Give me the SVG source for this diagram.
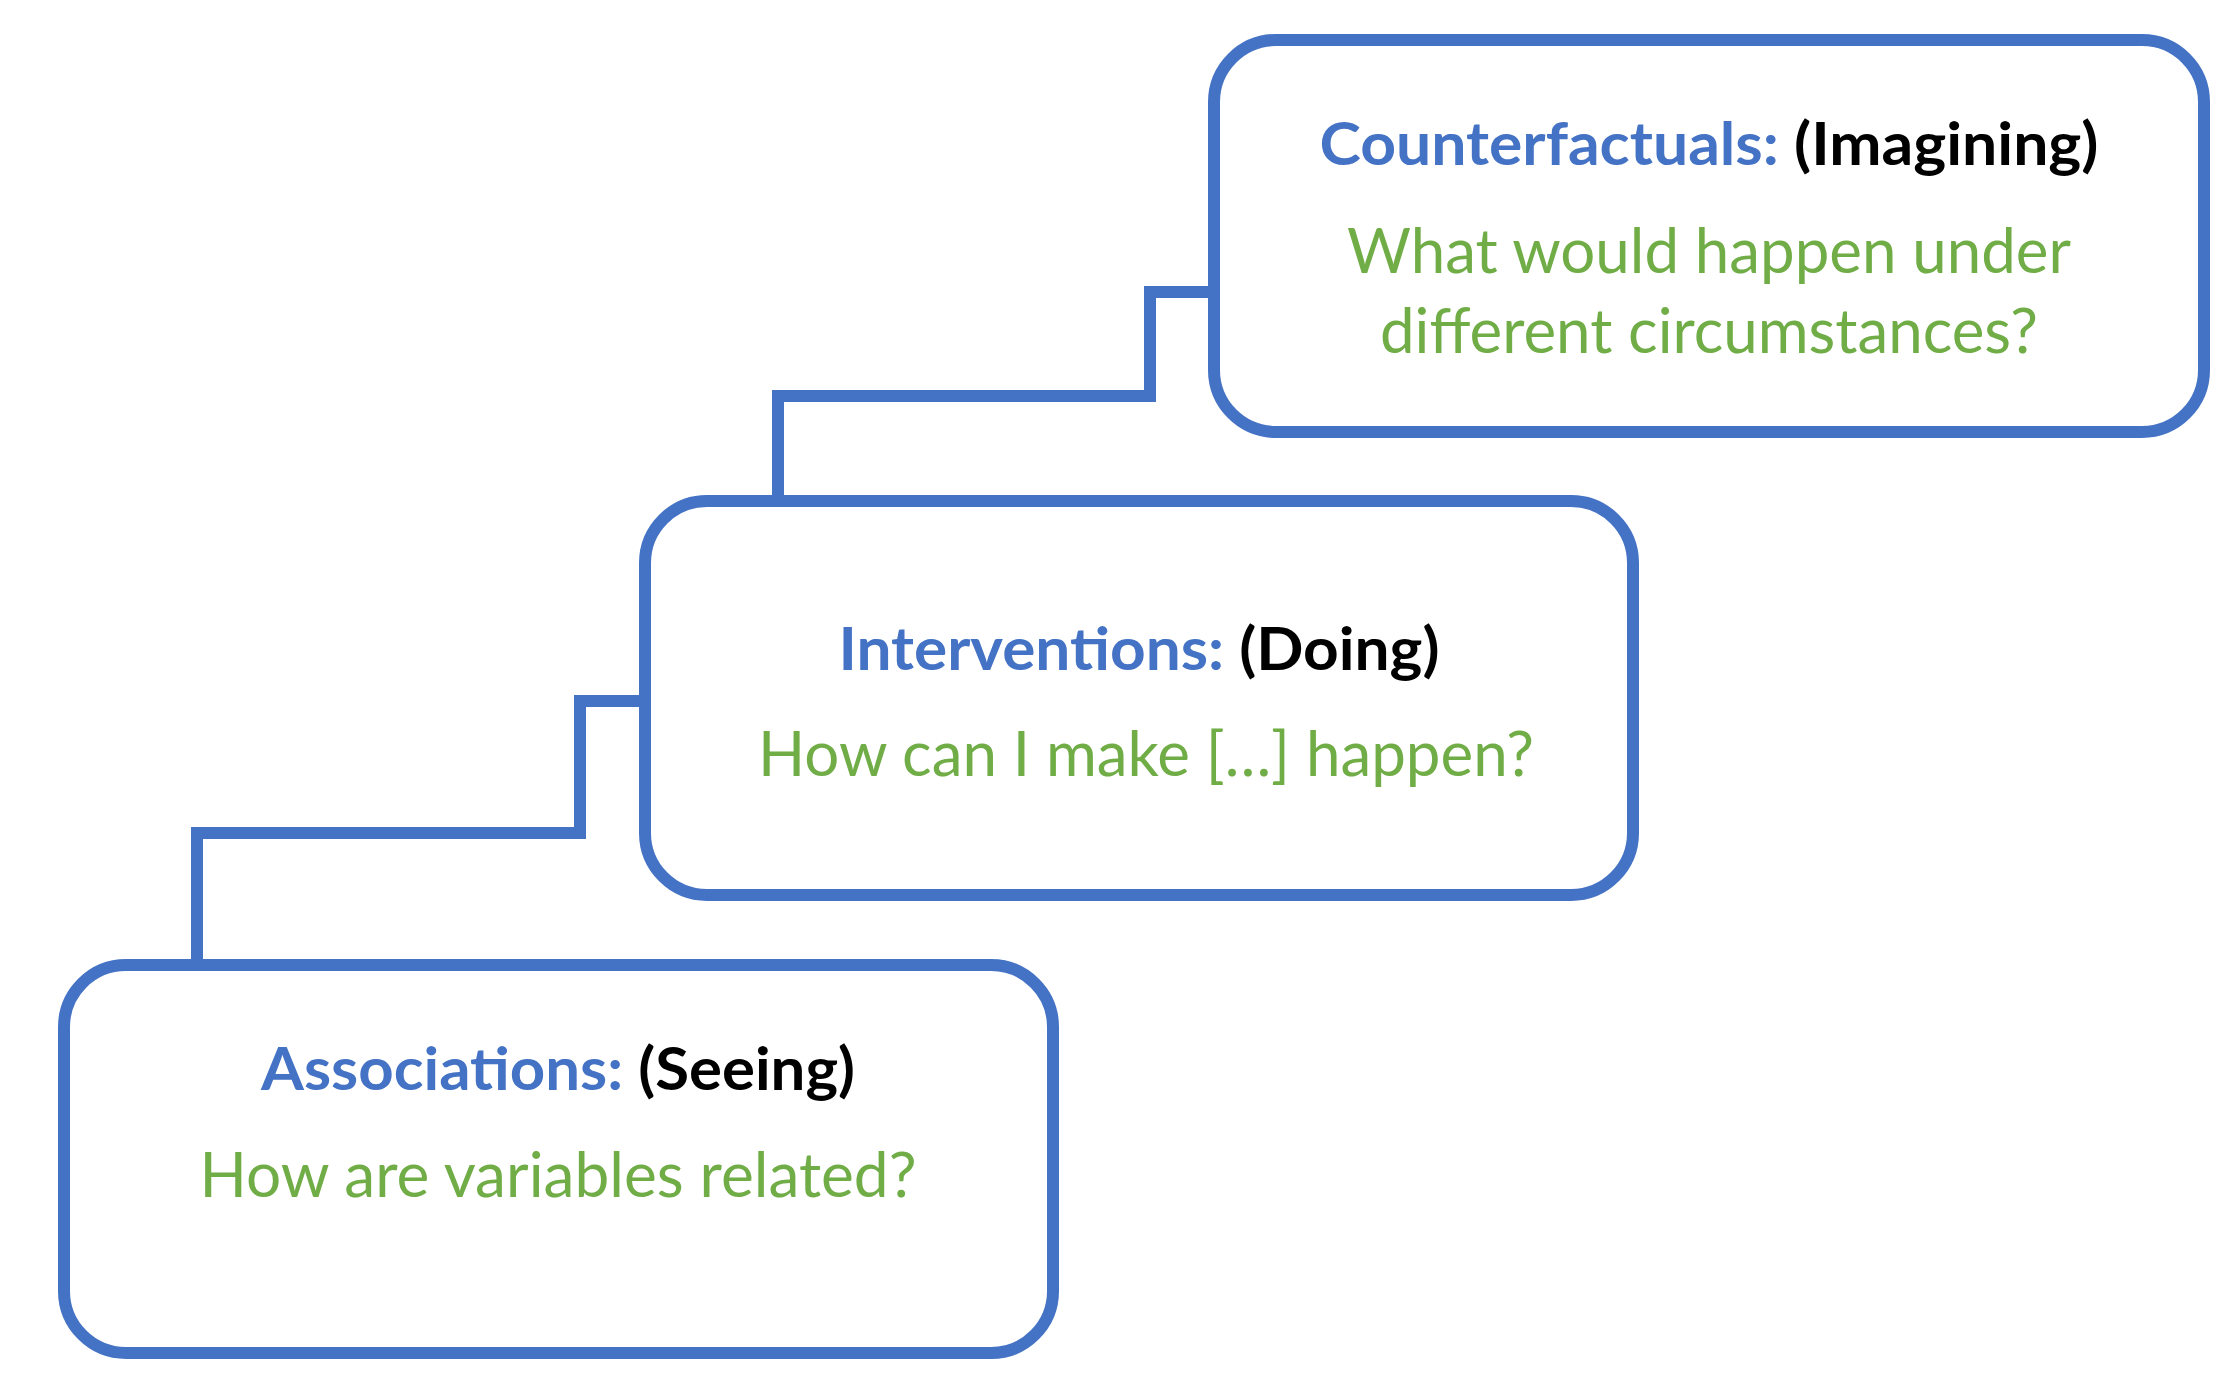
<svg xmlns="http://www.w3.org/2000/svg" width="2234" height="1392" viewBox="0 0 2234 1392">
<style>
.box{fill:#fff;stroke:#4472C4;stroke-width:12}
.conn{fill:none;stroke:#4472C4;stroke-width:12;stroke-linejoin:miter;stroke-linecap:butt}
.title{font-family:Lato,"Open Sans","Liberation Sans",sans-serif;font-weight:bold;font-size:60px;text-anchor:middle}
.q{font-family:Lato,"Open Sans","Liberation Sans",sans-serif;font-size:62px;fill:#70AD47;text-anchor:middle}
.b{fill:#4472C4}
.k{fill:#000}
</style>
<rect width="2234" height="1392" fill="#fff"/>
<g id="connectors">
<path class="conn" d="M1214 292 H1150 V396 H778 V501"/>
<path class="conn" d="M645 701 H580 V833 H197 V965"/>
</g>
<g id="counterfactuals">
<rect class="box" x="1214" y="40" width="990" height="392" rx="62"/>
<text class="title" x="1709" y="165" textLength="779" lengthAdjust="spacingAndGlyphs"><tspan class="b">Counterfactuals:</tspan><tspan class="k"> (Imagining)</tspan></text>
<text class="q" x="1709" y="273" textLength="724" lengthAdjust="spacingAndGlyphs">What would happen under</text>
<text class="q" x="1709" y="353" textLength="658" lengthAdjust="spacingAndGlyphs">different circumstances?</text>
</g>
<g id="interventions">
<rect class="box" x="645" y="501" width="988" height="394" rx="62"/>
<line class="conn" x1="712" y1="501" x2="784" y2="501"/>
<text class="title" x="1139" y="670" textLength="601" lengthAdjust="spacingAndGlyphs"><tspan class="b">Interventions:</tspan><tspan class="k"> (Doing)</tspan></text>
<text class="q" x="1146" y="776" textLength="776" lengthAdjust="spacingAndGlyphs">How can I make […] happen?</text>
</g>
<g id="associations">
<rect class="box" x="64" y="965" width="989" height="388" rx="62"/>
<line class="conn" x1="132" y1="965" x2="203" y2="965"/>
<text class="title" x="558" y="1090" textLength="594" lengthAdjust="spacingAndGlyphs"><tspan class="b">Associations:</tspan><tspan class="k"> (Seeing)</tspan></text>
<text class="q" x="558" y="1197" textLength="717" lengthAdjust="spacingAndGlyphs">How are variables related?</text>
</g>
</svg>
